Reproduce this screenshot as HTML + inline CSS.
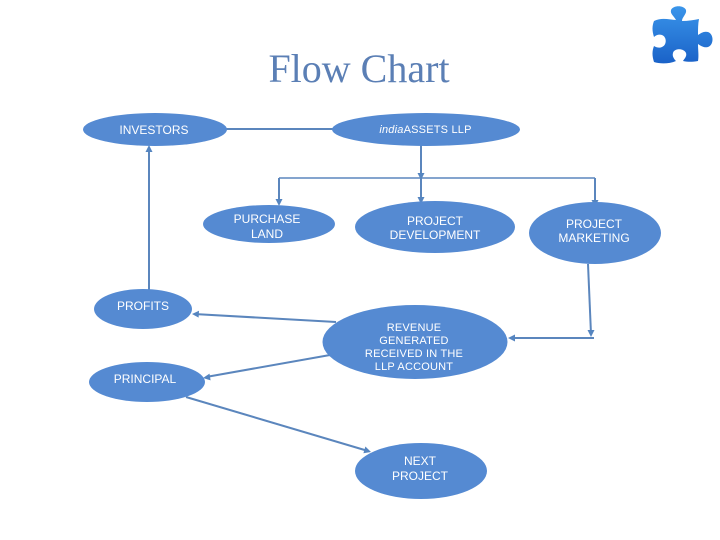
<!DOCTYPE html>
<html>
<head>
<meta charset="utf-8">
<style>
html,body{margin:0;padding:0;background:#fff;}
svg{display:block;}
text{font-family:"Liberation Sans",sans-serif;fill:#fff;font-size:12px;text-anchor:middle;}
.t{font-family:"Liberation Serif",serif;fill:#5b7fb5;font-size:40px;}
.l{stroke:#5b86bd;stroke-width:2;fill:none;}
.n{stroke:#5b86bd;stroke-width:1.5;fill:none;}
.a{fill:#5585c0;}
.e{fill:#558ad2;}
</style>
</head>
<body>
<svg width="720" height="540" viewBox="0 0 720 540" xmlns="http://www.w3.org/2000/svg">
<text class="t" x="359" y="82">Flow Chart</text>

<!-- puzzle icon -->
<defs><linearGradient id="g" x1="0" y1="0" x2="0" y2="1"><stop offset="0" stop-color="#3a95ea"/><stop offset="1" stop-color="#1a62c8"/></linearGradient></defs>
<path fill="url(#g)" d="M654 21 C662 17 670 20 676 20 C674 16 670 14 671 10 C673 5 684 5 686 10 C687 14 682 17 682 21 C688 21 694 20 699 19 C698 24 698 29 698 35 C701 33 704 31 708 32 C714 34 714 45 708 47 C704 48 701 46 698 44 C698 50 699 56 698 61 C692 62 688 62 683 61 C685 58 687 56 686 53 C684 48 674 48 673 53 C672 56 674 59 676 61 C669 64 660 64 654 62 C652 56 652 51 654 46 C657 48 660 48 662 47 C667 45 667 37 662 35 C659 34 656 35 654 37 C652 31 652 26 654 21 Z"/>

<!-- connectors -->
<line class="l" x1="226" y1="129" x2="336" y2="129"/>
<polygon class="a" points="332,129 339,125.5 339,132.5"/>
<line class="l" x1="421" y1="145" x2="421" y2="206"/>
<polygon class="a" points="421,180 417.5,173 424.5,173"/>
<polygon class="a" points="421,204 417.5,197 424.5,197"/>
<line class="n" x1="279" y1="178" x2="595" y2="178"/>
<line class="l" x1="279" y1="178" x2="279" y2="204"/>
<polygon class="a" points="279,206 275.5,199 282.5,199"/>
<line class="l" x1="595" y1="178" x2="595" y2="205"/>
<polygon class="a" points="595,207 591.5,200 598.5,200"/>
<line class="l" x1="149" y1="290" x2="149" y2="147"/>
<polygon class="a" points="149,145 145.5,152 152.5,152"/>
<line class="l" x1="588" y1="264" x2="591" y2="334"/>
<polygon class="a" points="591,337 587.5,330 594.5,330"/>
<line class="l" x1="594" y1="338" x2="510" y2="338"/>
<polygon class="a" points="508,338 515,334.5 515,341.5"/>
<line class="l" x1="336" y1="322" x2="194" y2="314"/>
<polygon class="a" points="192,314 199,310.8 198.6,317.6"/>
<line class="l" x1="330" y1="355" x2="206" y2="377"/>
<polygon class="a" points="203,378 209.5,373.6 210.6,380.4"/>
<line class="l" x1="186" y1="397" x2="368" y2="451"/>
<polygon class="a" points="371,452 363.4,453.2 365.4,446.5"/>

<!-- nodes -->
<ellipse class="e" cx="155" cy="129.500" rx="72" ry="16.500"/>
<ellipse class="e" cx="426" cy="129.500" rx="94" ry="16.500"/>
<ellipse class="e" cx="269" cy="224" rx="66" ry="19"/>
<ellipse class="e" cx="435" cy="227" rx="80" ry="26"/>
<ellipse class="e" cx="595" cy="233" rx="66" ry="31"/>
<ellipse class="e" cx="143" cy="309" rx="49" ry="20"/>
<ellipse class="e" cx="415" cy="342" rx="92.500" ry="37"/>
<ellipse class="e" cx="147" cy="382" rx="58" ry="20"/>
<ellipse class="e" cx="421" cy="471" rx="66" ry="28"/>

<!-- labels -->
<text x="154" y="134">INVESTORS</text>
<text x="425.500" y="133" style="font-size:11px;letter-spacing:.2px"><tspan font-style="italic">india</tspan>ASSETS LLP</text>
<text x="267" y="223">PURCHASE</text>
<text x="267" y="238">LAND</text>
<text x="435" y="225">PROJECT</text>
<text x="435" y="239">DEVELOPMENT</text>
<text x="594" y="228">PROJECT</text>
<text x="594" y="242">MARKETING</text>
<text x="143" y="310">PROFITS</text>
<text x="145" y="383">PRINCIPAL</text>
<text x="414" y="331" style="font-size:11px;letter-spacing:.2px">REVENUE</text>
<text x="414" y="344" style="font-size:11px;letter-spacing:.2px">GENERATED</text>
<text x="414" y="357" style="font-size:11px;letter-spacing:.2px">RECEIVED IN THE</text>
<text x="414" y="370" style="font-size:11px;letter-spacing:.2px">LLP ACCOUNT</text>
<text x="420" y="465">NEXT</text>
<text x="420" y="480">PROJECT</text>
</svg>
</body>
</html>
